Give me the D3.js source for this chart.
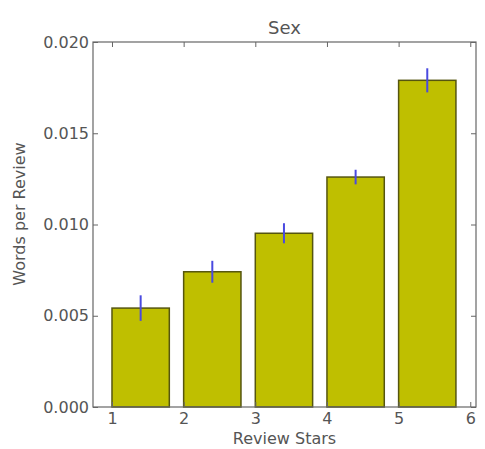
<!DOCTYPE html>
<html><head><meta charset="utf-8">
<script src="https://cdn.jsdelivr.net/npm/d3@7"></script>
<style>body{margin:0;background:#fff}svg{display:block}text{font-family:"DejaVu Sans",sans-serif}</style>
</head><body><svg id="c" width="485" height="449"></svg>
<script>
const stars = [1, 2, 3, 4, 5];
const values = [0.00542, 0.00741, 0.00952, 0.0126, 0.0179];
const errors = [0.0007, 0.0006, 0.00055, 0.0004, 0.00066];
const xTicks = [1, 2, 3, 4, 5, 6];
const yTicks = [0, 0.005, 0.01, 0.015, 0.02];
const barWidth = 0.8;

const svg = d3.select("#c");
const L = 93, R = 476, T = 42, B = 407;
const x = d3.scaleLinear().domain([0.735, 6.08]).range([L, R]);
const y = d3.scaleLinear().domain([0, 0.02]).range([B, T]);
const txt = "#555", fs = 16;

// bars
svg.append("g").selectAll("rect").data(stars).join("rect")
  .attr("x", (d) => x(d))
  .attr("width", (d) => x(d + barWidth) - x(d))
  .attr("y", (d, i) => y(values[i]))
  .attr("height", (d, i) => y(0) - y(values[i]))
  .attr("fill", "#bfbf00").attr("stroke", "#55550f").attr("stroke-width", 1.5);

// error bars
svg.append("g").selectAll("line").data(stars).join("line")
  .attr("x1", (d) => x(d + barWidth / 2)).attr("x2", (d) => x(d + barWidth / 2))
  .attr("y1", (d, i) => y(values[i] - errors[i]))
  .attr("y2", (d, i) => y(values[i] + errors[i]))
  .attr("stroke", "#4a4ae0").attr("stroke-width", 2);

// frame
svg.append("rect").attr("x", L).attr("y", T).attr("width", R - L).attr("height", B - T)
  .attr("fill", "none").attr("stroke", "#666").attr("stroke-width", 1.2);

// axes with inward ticks
const fmt = d3.format(".3f");
const ax = (g, axis) => {
  g.call(axis);
  g.select(".domain").remove();
  g.selectAll(".tick line").attr("stroke", "#666");
  g.selectAll("text").attr("fill", txt).attr("font-size", fs).attr("font-family", "DejaVu Sans");
};
svg.append("g").attr("transform", `translate(${L},0)`)
  .call((g) => ax(g, d3.axisLeft(y).tickValues(yTicks).tickFormat(fmt).tickSize(-5).tickPadding(4)));
svg.append("g").attr("transform", `translate(${R},0)`)
  .call((g) => ax(g, d3.axisRight(y).tickValues(yTicks).tickFormat("").tickSize(-5)));
svg.append("g").attr("transform", `translate(0,${B})`)
  .call((g) => ax(g, d3.axisBottom(x).tickValues(xTicks).tickFormat(d3.format("d")).tickSize(-5).tickPadding(6)));
svg.append("g").attr("transform", `translate(0,${T})`)
  .call((g) => ax(g, d3.axisTop(x).tickValues(xTicks).tickFormat("").tickSize(-5)));

// labels
svg.append("text").attr("x", (L + R) / 2).attr("y", 34).attr("text-anchor", "middle")
  .attr("font-size", 18).attr("fill", txt).text("Sex");
svg.append("text").attr("x", (L + R) / 2).attr("y", 444).attr("text-anchor", "middle")
  .attr("font-size", fs).attr("fill", txt).text("Review Stars");
svg.append("text").attr("transform", `translate(25,214) rotate(-90)`)
  .attr("text-anchor", "middle").attr("font-size", fs).attr("fill", txt).text("Words per Review");
</script></body></html>
